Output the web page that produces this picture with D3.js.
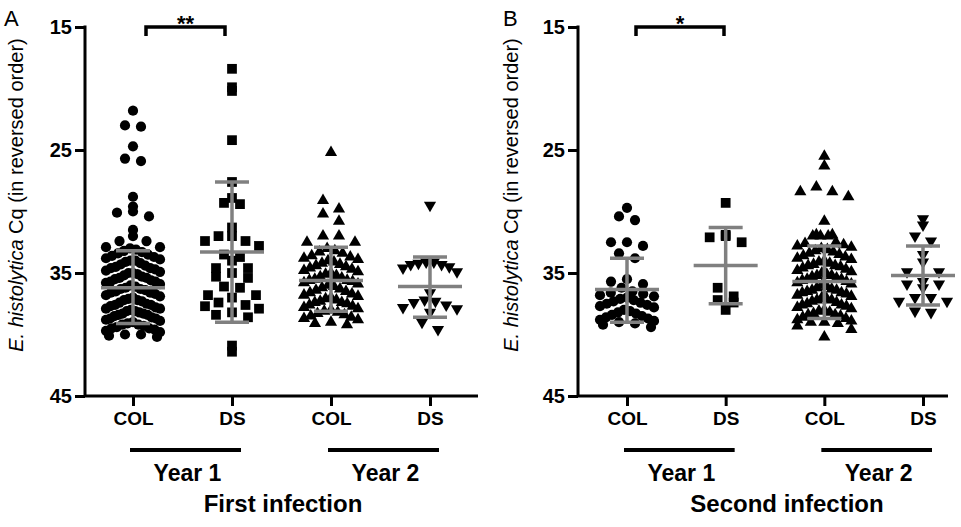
<!DOCTYPE html>
<html>
<head>
<meta charset="utf-8">
<script src="https://cdn.jsdelivr.net/npm/d3@7"></script>
<style>
    body { margin: 0; background: #fff; }
    svg { font-family: "Liberation Sans", Arial, sans-serif; }
</style>
</head>
<body>
<svg id="chart" width="961" height="527"></svg>
<script>
'use strict';

const categories = ["COL", "DS", "COL", "DS"];
const years = ["Year 1", "Year 2"];
const yTicks = [15, 25, 35, 45];

// panel A - first infection (Cq values)
const firstY1Col = [21.8, 23.0, 23.1, 24.7, 25.7, 25.9, 28.8, 29.6, 30.0, 30.1, 30.4, 31.5, 32.0, 32.4, 32.4, 32.9, 32.9,
    33.0, 33.2, 33.3, 33.5, 33.6, 33.8, 33.9, 33.4, 33.7, 33.1,
    34.0, 34.1, 34.3, 34.4, 34.6, 34.7, 34.9, 34.2, 34.5, 34.8, 34.0, 34.6,
    35.0, 35.1, 35.3, 35.4, 35.6, 35.7, 35.9, 35.2, 35.5, 35.8, 35.0, 35.4, 35.7,
    36.0, 36.1, 36.3, 36.4, 36.6, 36.7, 36.9, 36.2, 36.5, 36.8, 36.3, 36.6,
    37.0, 37.2, 37.3, 37.5, 37.6, 37.8, 37.9, 37.1, 37.4, 37.7, 37.2, 37.6, 37.9,
    38.0, 38.1, 38.3, 38.4, 38.6, 38.7, 38.9, 38.2, 38.5, 38.8, 38.1, 38.4, 38.7, 38.3,
    39.0, 39.2, 39.3, 39.5, 39.6, 39.8, 39.1, 39.4, 39.7, 39.2, 39.5,
    40.0, 40.1, 40.2, 40.0];
const firstY1Ds = [18.4, 19.9, 20.2, 24.2, 27.6, 28.9, 29.3, 29.4, 31.3, 32.0, 32.0, 32.4, 32.4, 32.8, 33.5, 33.7,
    34.0, 34.6, 34.6, 35.0, 35.3, 35.4, 36.1, 36.2, 36.8, 36.8, 37.0, 37.4, 37.6, 37.7, 37.9, 38.2, 38.4, 38.6,
    40.9, 41.4];
const firstY2Col = [25.2, 29.1, 29.8, 30.2, 30.8, 32.0, 32.0, 32.5, 32.5,
    33.0, 33.2, 33.4, 33.6, 33.8, 33.3, 33.7, 33.9,
    34.0, 34.2, 34.4, 34.6, 34.8, 34.1, 34.5, 34.9, 34.3, 34.7,
    35.0, 35.2, 35.4, 35.6, 35.8, 35.1, 35.5, 35.9, 35.3, 35.7, 35.6,
    36.0, 36.2, 36.4, 36.6, 36.8, 36.1, 36.5, 36.9, 36.3, 36.7,
    37.0, 37.2, 37.4, 37.6, 37.8, 37.1, 37.5, 37.9, 37.3, 37.7, 37.4,
    38.0, 38.2, 38.4, 38.6, 38.8, 38.1, 38.5, 38.3, 38.7,
    39.0, 39.2, 39.1];
const firstY2Ds = [29.5, 34.1, 34.1, 34.3, 34.3, 34.6, 34.5, 34.9, 34.2, 36.6, 37.2, 37.3, 37.6, 37.8, 37.4,
    38.2, 37.9, 39.0, 39.6];

// grey lines: centre and the two whisker ends
const firstCenter = [36.2, 33.3, 35.6, 36.1];
const firstUpper = [33.2, 27.6, 32.9, 33.7];
const firstLower = [39.1, 39.0, 38.1, 38.6];

// panel B - second infection
const secondY1Col = [29.7, 30.4, 30.7, 32.5, 32.5, 32.8, 33.4, 33.8, 35.5, 35.7, 35.9, 36.2,
    36.5, 36.7, 36.9, 36.6, 36.8,
    37.0, 37.2, 37.4, 37.6, 37.8, 37.1, 37.5, 37.3, 37.7,
    38.0, 38.2, 38.4, 38.6, 38.8, 38.1, 38.5, 38.3, 38.7, 38.9,
    39.0, 39.2, 39.4, 39.1];
const secondY1Ds = [29.3, 31.9, 32.0, 32.1, 32.5, 36.2, 36.9, 37.2, 37.4, 38.0];
const secondY2Col = [25.5, 26.3, 28.0, 28.4, 28.4, 28.8, 30.8, 31.9, 32.0, 32.0, 32.0, 31.9,
    32.5, 32.7, 32.9, 32.6, 32.8,
    33.0, 33.2, 33.4, 33.6, 33.8, 33.1, 33.5, 33.9, 33.3, 33.7,
    34.0, 34.2, 34.4, 34.6, 34.8, 34.1, 34.5, 34.9, 34.3, 34.7, 34.4,
    35.0, 35.2, 35.4, 35.6, 35.8, 35.1, 35.5, 35.9, 35.3, 35.7, 35.5, 35.2,
    36.0, 36.2, 36.4, 36.6, 36.8, 36.1, 36.5, 36.9, 36.3, 36.7, 36.4, 36.6,
    37.0, 37.2, 37.4, 37.6, 37.8, 37.1, 37.5, 37.9, 37.3, 37.7, 37.2, 37.6,
    38.0, 38.2, 38.4, 38.6, 38.8, 38.1, 38.5, 38.3, 38.7, 38.9, 38.4,
    39.0, 39.1, 39.3, 39.6, 39.0,
    40.2];
const secondY2Ds = [30.6, 31.1, 32.0, 32.4, 33.5, 34.1, 34.9, 34.9, 35.7, 35.9, 35.9, 36.2, 37.0, 37.3, 37.3,
    37.0, 38.2, 38.1];

const secondCenter = [36.35, 34.4, 35.7, 35.2];
const secondUpper = [33.8, 31.3, 32.8, 32.8];
const secondLower = [39.0, 37.5, 38.7, 37.6];

const GREY = "#808080";
const SYMBOLS = [
    { type: d3.symbolCircle, size: 82, rotate: 0 },
    { type: d3.symbolSquare, size: 95, rotate: 0 },
    { type: d3.symbolTriangle, size: 64, rotate: 0 },
    { type: d3.symbolTriangle, size: 64, rotate: 180 },
];
// prism-like column scatter: 1 Cq bins, dots 16px apart, squeezed into +-27px
const SPREAD = { bin: 1, step: 16, halfWidth: 27 };

const panels = [
    {
        label: "A", caption: "First infection", stars: "**",
        groups: [firstY1Col, firstY1Ds, firstY2Col, firstY2Ds],
        center: firstCenter, upper: firstUpper, lower: firstLower,
        left: 85, right: 478, catFrom: 133, catTo: 430,
        bracket: [146, 225], labelX: 4, titleX: 23, captionX: 283,
    },
    {
        label: "B", caption: "Second infection", stars: "*",
        groups: [secondY1Col, secondY1Ds, secondY2Col, secondY2Ds],
        center: secondCenter, upper: secondUpper, lower: secondLower,
        left: 578, right: 948, catFrom: 627, catTo: 923,
        bracket: [636, 724], labelX: 503, titleX: 518, captionX: 787,
    },
];

const svg = d3.select("#chart");

/**
 * Horizontal offsets of the dots in one column: values are binned, each bin
 * is laid out as a row, the smallest values in the middle (gives the chevrons)
 */
function spread(values, opts) {
    const offsets = new Array(values.length);
    const bins = d3.group(d3.range(values.length), (i) => Math.floor(values[i] / opts.bin));
    bins.forEach((idx) => {
        idx.sort((a, b) => values[a] - values[b]);
        const n = idx.length;
        const s = n > 1 ? Math.min(opts.step, 2 * opts.halfWidth / (n - 1)) : 0;
        // slots ordered from the centre outwards
        const slots = d3.range(n)
            .map((k) => (k - (n - 1) / 2) * s)
            .sort((a, b) => Math.abs(a) - Math.abs(b) || a - b);
        idx.forEach((i, k) => offsets[i] = slots[k]);
    });
    return offsets;
}

function styleTicks(axisG, size) {
    axisG.select(".domain").remove();
    axisG.selectAll(".tick line").attr("stroke", "#000").attr("stroke-width", 3);
    axisG.selectAll(".tick text")
        .attr("font-size", size)
        .attr("font-weight", "bold")
        .attr("fill", "#000")
        .attr("font-family", "Liberation Sans, Arial, sans-serif");
}

function drawPanel(p) {
    const g = svg.append("g").classed("panel", true);

    const y = d3.scaleLinear().domain([15, 45]).range([27, 396]);
    const x = d3.scalePoint().domain(d3.range(categories.length)).range([p.catFrom, p.catTo]);

    // y axis
    g.append("g")
        .attr("transform", `translate(${p.left},0)`)
        .call(d3.axisLeft(y).tickValues(yTicks).tickSize(10).tickSizeOuter(0).tickPadding(3))
        .call(styleTicks, 20);

    // x axis
    g.append("g")
        .attr("transform", `translate(0,${y(45)})`)
        .call(d3.axisBottom(x).tickFormat((i) => categories[i]).tickSize(10).tickSizeOuter(0).tickPadding(6))
        .call(styleTicks, 19);

    // axis lines
    g.append("path")
        .attr("d", `M${p.left},${y(15) - 1.5}V${y(45)}H${p.right}`)
        .attr("fill", "none")
        .attr("stroke", "#000")
        .attr("stroke-width", 3);

    // dots
    p.groups.forEach((values, gi) => {
        const sym = SYMBOLS[gi];
        const offsets = spread(values, SPREAD);
        const shape = d3.symbol().type(sym.type).size(sym.size);
        g.append("g")
            .selectAll("path")
            .data(values)
            .join("path")
            .attr("d", shape)
            .attr("fill", "#000")
            .attr("transform", (v, i) => `translate(${x(gi) + offsets[i]},${y(v)}) rotate(${sym.rotate})`);
    });

    // grey centre line with whiskers
    const bars = g.append("g")
        .attr("stroke", GREY)
        .attr("stroke-width", 3.5)
        .attr("fill", "none");
    p.center.forEach((c, i) => {
        const cx = x(i);
        bars.append("path").attr("d", `M${cx},${y(p.upper[i])}V${y(p.lower[i])}`);
        bars.append("path").attr("d", `M${cx - 17},${y(p.upper[i])}H${cx + 17}`);
        bars.append("path").attr("d", `M${cx - 17},${y(p.lower[i])}H${cx + 17}`);
        bars.append("path").attr("d", `M${cx - 32},${y(c)}H${cx + 32}`);
    });

    // significance bracket
    g.append("path")
        .attr("d", `M${p.bracket[0]},36V27H${p.bracket[1]}V36`)
        .attr("fill", "none")
        .attr("stroke", "#000")
        .attr("stroke-width", 3.5);
    g.append("text")
        .attr("x", (p.bracket[0] + p.bracket[1]) / 2)
        .attr("y", 31)
        .attr("text-anchor", "middle")
        .attr("font-size", 22)
        .attr("font-weight", "bold")
        .text(p.stars);

    // year groups under the axis
    years.forEach((yr, k) => {
        const x0 = x(2 * k), x1 = x(2 * k + 1);
        g.append("line")
            .attr("x1", x0 - 3).attr("x2", x1 + 9)
            .attr("y1", 450).attr("y2", 450)
            .attr("stroke", "#000")
            .attr("stroke-width", 4);
        g.append("text")
            .attr("x", (x0 + x1) / 2 + 5)
            .attr("y", 481)
            .attr("text-anchor", "middle")
            .attr("font-size", 23)
            .attr("font-weight", "bold")
            .text(yr);
    });

    g.append("text")
        .attr("x", p.captionX)
        .attr("y", 512)
        .attr("text-anchor", "middle")
        .attr("font-size", 24)
        .attr("font-weight", "bold")
        .text(p.caption);

    // y title, species name in italics
    const title = g.append("text")
        .attr("transform", `translate(${p.titleX},195) rotate(-90)`)
        .attr("text-anchor", "middle")
        .attr("font-size", 20);
    title.append("tspan").attr("font-style", "italic").text("E. histolytica");
    title.append("tspan").text(" Cq (in reversed order)");

    g.append("text")
        .attr("x", p.labelX)
        .attr("y", 26)
        .attr("font-size", 22)
        .text(p.label);
}

panels.forEach(drawPanel);
</script>
</body>
</html>
